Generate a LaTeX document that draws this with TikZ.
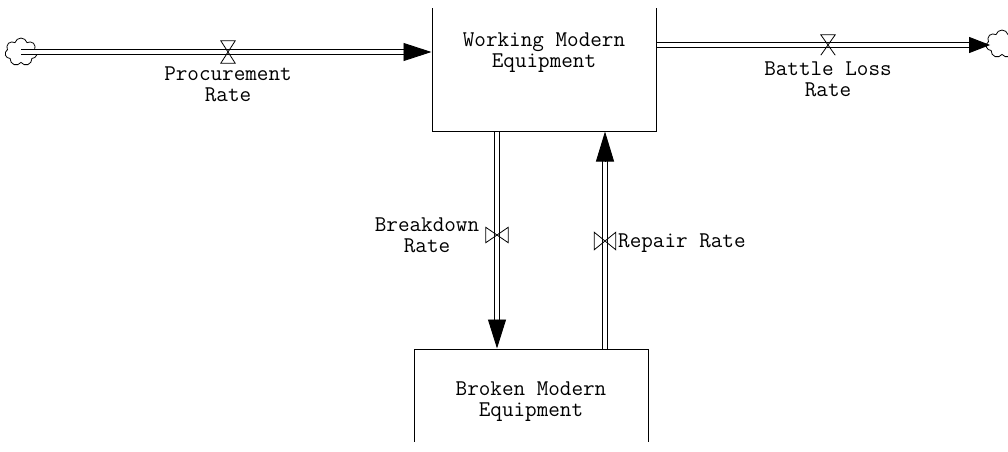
\documentclass[tikz,border=0pt]{standalone}
\usetikzlibrary{arrows.meta,shapes.symbols}
\begin{document}
\begin{tikzpicture}[x=1pt,y=-1pt,
  every node/.style={font=\ttfamily\fontsize{22.5}{21}\selectfont, inner sep=0pt, align=center},
  stock/.style={draw, line width=1pt},
  pipe/.style={draw, line width=0.9pt, double=white, double distance=4pt},
  valve/.style={draw, line width=0.8pt},
  valvebox/.style={draw=none},
  sourcesink/.style={cloud, cloud puffs=7, cloud ignores aspect, draw, line width=0.8pt, minimum width=32pt, minimum height=28pt},
  tip/.style={line width=0.9pt, -{Triangle[length=#1, width=18pt]}},
  tip/.default=28pt]
\useasboundingbox (0,0) rectangle (1008,451);
\begin{scope}
\clip (0,8) rectangle (1008,441);

% stocks
\node[stock, minimum width=224pt, minimum height=157pt] (work) at (544,52.5) {Working Modern\\Equipment};
\node[stock, minimum width=234pt, minimum height=106pt] (brk) at (531,402) {Broken Modern\\Equipment};

% source and sink
\node[sourcesink] (srcL) at (21,52) {};
\node[sourcesink] (sinkR) at (1002,44) {};

% valves
\node[valvebox, minimum width=14pt, minimum height=22pt] (vproc) at (228,52) {};
\node[valvebox, minimum width=14pt, minimum height=20pt] (vloss) at (828,45) {};
\node[valvebox, minimum width=22pt, minimum height=15pt] (vbreak) at (497,235) {};
\node[valvebox, minimum width=21pt, minimum height=17pt] (vrep) at (605,241) {};

% pipe end points
\coordinate (inEnd) at (work.west |- vproc);
\coordinate (outStart) at (work.east |- vloss);
\coordinate (outEnd) at ([xshift=4pt]sinkR.west |- vloss);
\coordinate (bkStart) at (work.south -| vbreak);
\coordinate (bkEnd) at (brk.north -| vbreak);
\coordinate (rpStart) at (brk.north -| vrep);
\coordinate (rpEnd) at (work.south -| vrep);

% flows
\draw[pipe] (srcL.center) -- ([xshift=-26pt]inEnd);
\draw[tip] ([xshift=-28pt]inEnd) -- (inEnd);

\draw[pipe] (outStart) -- ([xshift=-19pt]outEnd);
\draw[line width=0.9pt, -{Triangle[length=21pt, width=16pt]}] ([xshift=-21pt]outEnd) -- (outEnd);

\draw[pipe] (bkStart) -- ([yshift=28pt]bkEnd);
\draw[tip=29pt] ([yshift=29pt]bkEnd) -- (bkEnd);

\draw[pipe] (rpStart) -- ([yshift=-29pt]rpEnd);
\draw[tip=30pt] ([yshift=-30pt]rpEnd) -- (rpEnd);

% valve symbols
\draw[valve] (vproc.north west) -- (vproc.north east) -- (vproc.south west) -- (vproc.south east) -- cycle;
\draw[valve] (vloss.south west) -- (vloss.north east) -- (vloss.north west) -- (vloss.south east);
\draw[valve] (vbreak.north west) -- (vbreak.south west) -- (vbreak.north east) -- (vbreak.south east) -- cycle;
\draw[valve] (vrep.north west) -- (vrep.south west) -- (vrep.north east) -- (vrep.south east) -- cycle;

% rate labels
\node (lproc) at (228,84.5) {Procurement\\Rate};
\node (lloss) at (828,79) {Battle Loss\\Rate};
\node (lbreak) at (427,235) {Breakdown\\Rate};
\node[anchor=west] (lrep) at (618,243) {Repair Rate};
\end{scope}
\end{tikzpicture}
\end{document}
